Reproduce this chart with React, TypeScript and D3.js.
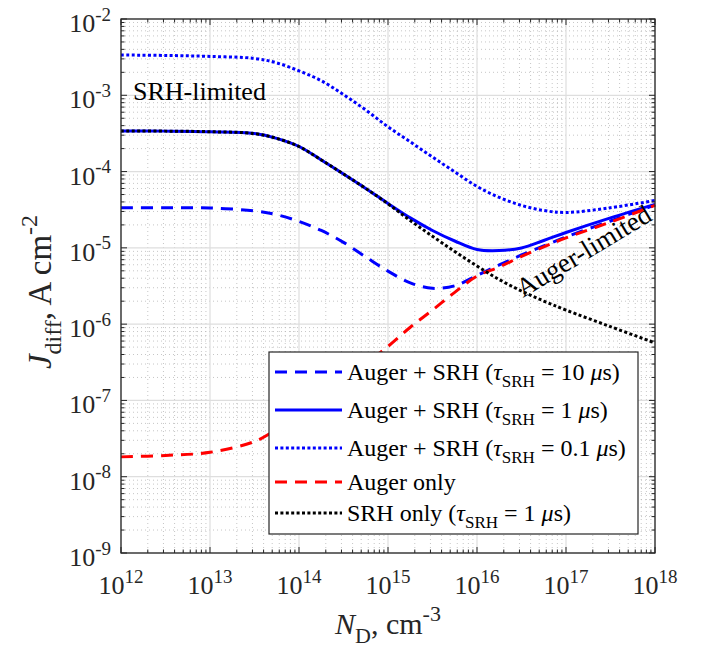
import React, { useMemo } from 'react';
import * as d3 from 'd3';

const WIDTH = 708;
const HEIGHT = 647;
const MARGIN = { top: 19, right: 53, bottom: 94, left: 121 };
const FONT = '"Liberation Serif", "Times New Roman", serif';
const AXIS_COLOR = '#262626';

// donor concentration N_D (cm^-3)
const ndValues = [
  1e12, 3.16e12, 1e13, 3.16e13, 5.62e13, 1e14, 1.78e14, 3.16e14, 5.62e14, 1e15, 1.78e15,
  3.16e15, 5.62e15, 1e16, 1.78e16, 3.16e16, 5.62e16, 1e17, 3.16e17, 1e18,
];

// J_diff (A cm^-2) for each curve
const jAugerSrh10 = [
  3.36e-5, 3.36e-5, 3.33e-5, 3.05e-5, 2.72e-5, 2.22e-5, 1.69e-5, 1.18e-5, 7.6e-6, 4.95e-6, 3.48e-6,
  2.95e-6, 3.18e-6, 4.35e-6, 5.97e-6, 8.07e-6, 1.06e-5, 1.39e-5, 2.25e-5, 3.65e-5,
];
const jAugerSrh1 = [
  3.4e-4, 3.39e-4, 3.33e-4, 3.15e-4, 2.72e-4, 2.13e-4, 1.42e-4, 9.3e-5, 6.01e-5, 3.82e-5, 2.47e-5,
  1.69e-5, 1.23e-5, 9.5e-6, 9.2e-6, 9.98e-6, 1.25e-5, 1.59e-5, 2.47e-5, 3.71e-5,
];
const jAugerSrh01 = [
  3.37e-3, 3.33e-3, 3.23e-3, 3.04e-3, 2.66e-3, 2.09e-3, 1.55e-3, 1.02e-3, 6.42e-4, 3.86e-4, 2.45e-4,
  1.55e-4, 9.9e-5, 6.38e-5, 4.58e-5, 3.6e-5, 3.09e-5, 2.91e-5, 3.36e-5, 4.18e-5,
];
const jAugerOnly = [
  1.82e-8, 1.9e-8, 2.09e-8, 2.89e-8, 4.17e-8, 6.3e-8, 1.02e-7, 1.74e-7, 3.02e-7, 5.1e-7, 9.1e-7,
  1.53e-6, 2.61e-6, 4.27e-6, 5.62e-6, 7.71e-6, 1.03e-5, 1.35e-5, 2.18e-5, 3.6e-5,
];
const jSrhOnly = [
  3.4e-4, 3.39e-4, 3.33e-4, 3.15e-4, 2.72e-4, 2.13e-4, 1.42e-4, 9.3e-5, 6.01e-5, 3.78e-5, 2.28e-5,
  1.42e-5, 8.95e-6, 5.79e-6, 3.84e-6, 2.72e-6, 2.01e-6, 1.53e-6, 9.27e-7, 5.68e-7,
];

const xTickExps = [12, 13, 14, 15, 16, 17, 18];
const yTickExps = [-9, -8, -7, -6, -5, -4, -3, -2];

const tauLabels = ['10', '1', '0.1'];

// plot order = draw order
const SERIES = [
  { key: 'a10', values: jAugerSrh10, color: '#0000ff', dash: '12 8' },
  { key: 'a1', values: jAugerSrh1, color: '#0000ff', dash: null },
  { key: 'a01', values: jAugerSrh01, color: '#0000ff', dash: '3 2.4' },
  { key: 'auger', values: jAugerOnly, color: '#ff0000', dash: '12 8' },
  { key: 'srh', values: jSrhOnly, color: '#000000', dash: '3 2.4' },
];

const isDecade = (v: number) => Math.abs(Math.log10(v) - Math.round(Math.log10(v))) < 1e-6;

const Chart = () => {
  const boundsWidth = WIDTH - MARGIN.left - MARGIN.right;
  const boundsHeight = HEIGHT - MARGIN.top - MARGIN.bottom;

  const xScale = useMemo(
    () => d3.scaleLog().domain([1e12, 1e18]).range([MARGIN.left, MARGIN.left + boundsWidth]),
    [boundsWidth]
  );
  const yScale = useMemo(
    () => d3.scaleLog().domain([1e-9, 1e-2]).range([MARGIN.top + boundsHeight, MARGIN.top]),
    [boundsHeight]
  );

  const x0 = MARGIN.left;
  const x1 = MARGIN.left + boundsWidth;
  const y0 = MARGIN.top;
  const y1 = MARGIN.top + boundsHeight;

  const xTicks = xScale.ticks();
  const yTicks = yScale.ticks();

  const lineGen = d3
    .line<number>()
    .x((_, i) => xScale(ndValues[i]))
    .y((d) => yScale(d))
    .curve(d3.curveCatmullRom.alpha(0.5));

  // legend
  const legendBox = { x: 269, y: 352, w: 369, h: 182 };
  const legendRows = [372, 410, 448, 482, 513];

  const tauText = (tau: string) => (
    <>
      <tspan>Auger + SRH (</tspan>
      <tspan fontStyle="italic">τ</tspan>
      <tspan fontSize={17} dy={7}>SRH</tspan>
      <tspan dy={-7}> = {tau} </tspan>
      <tspan fontStyle="italic">μ</tspan>
      <tspan>s)</tspan>
    </>
  );

  const legendLabels = [
    tauText(tauLabels[0]),
    tauText(tauLabels[1]),
    tauText(tauLabels[2]),
    <tspan>Auger only</tspan>,
    <>
      <tspan>SRH only (</tspan>
      <tspan fontStyle="italic">τ</tspan>
      <tspan fontSize={17} dy={7}>SRH</tspan>
      <tspan dy={-7}> = 1 </tspan>
      <tspan fontStyle="italic">μ</tspan>
      <tspan>s)</tspan>
    </>,
  ];

  return (
    <svg
      width={WIDTH}
      height={HEIGHT}
      style={{ position: 'absolute', left: 0, top: 0, background: '#fff' }}
      fontFamily={FONT}
    >
      <rect x={0} y={0} width={WIDTH} height={HEIGHT} fill="#fff" />

      {/* minor grid */}
      {xTicks.filter((t) => !isDecade(t)).map((t, i) => (
        <line key={`xm${i}`} x1={xScale(t)} x2={xScale(t)} y1={y0} y2={y1}
          stroke="#b8b8b8" strokeWidth={0.8} strokeDasharray="1 3" />
      ))}
      {yTicks.filter((t) => !isDecade(t)).map((t, i) => (
        <line key={`ym${i}`} x1={x0} x2={x1} y1={yScale(t)} y2={yScale(t)}
          stroke="#b8b8b8" strokeWidth={0.8} strokeDasharray="1 3" />
      ))}
      {/* major grid */}
      {xTicks.filter(isDecade).map((t, i) => (
        <line key={`xg${i}`} x1={xScale(t)} x2={xScale(t)} y1={y0} y2={y1}
          stroke="#dedede" strokeWidth={1.2} />
      ))}
      {yTicks.filter(isDecade).map((t, i) => (
        <line key={`yg${i}`} x1={x0} x2={x1} y1={yScale(t)} y2={yScale(t)}
          stroke="#dedede" strokeWidth={1.2} />
      ))}

      {/* curves */}
      {SERIES.map((s) => (
        <path
          key={s.key}
          d={lineGen(s.values) || ''}
          fill="none"
          stroke={s.color}
          strokeWidth={3}
          strokeDasharray={s.dash || undefined}
        />
      ))}

      {/* ticks on all four sides */}
      {xTicks.map((t, i) => {
        const len = isDecade(t) ? 6 : 3.5;
        const x = xScale(t);
        return (
          <g key={`xt${i}`} stroke={AXIS_COLOR} strokeWidth={1}>
            <line x1={x} x2={x} y1={y1} y2={y1 - len} />
            <line x1={x} x2={x} y1={y0} y2={y0 + len} />
          </g>
        );
      })}
      {yTicks.map((t, i) => {
        const len = isDecade(t) ? 6 : 3.5;
        const y = yScale(t);
        return (
          <g key={`yt${i}`} stroke={AXIS_COLOR} strokeWidth={1}>
            <line x1={x0} x2={x0 + len} y1={y} y2={y} />
            <line x1={x1} x2={x1 - len} y1={y} y2={y} />
          </g>
        );
      })}
      <rect x={x0} y={y0} width={boundsWidth} height={boundsHeight}
        fill="none" stroke={AXIS_COLOR} strokeWidth={1.3} />

      {/* tick labels */}
      {xTickExps.map((e) => (
        <text key={`xl${e}`} x={xScale(10 ** e)} y={594} textAnchor="middle" fontSize={26} fill={AXIS_COLOR}>
          <tspan>10</tspan>
          <tspan fontSize={19} dy={-11}>{e}</tspan>
        </text>
      ))}
      {yTickExps.map((e) => (
        <text key={`yl${e}`} x={111} y={yScale(10 ** e) + 13} textAnchor="end" fontSize={26} fill={AXIS_COLOR}>
          <tspan>10</tspan>
          <tspan fontSize={19} dy={-11.5}>{e}</tspan>
        </text>
      ))}

      {/* axis labels */}
      <text x={(x0 + x1) / 2} y={634} textAnchor="middle" fontSize={30} fill={AXIS_COLOR}>
        <tspan fontStyle="italic">N</tspan>
        <tspan fontSize={22} dy={9}>D</tspan>
        <tspan dy={-9}>, cm</tspan>
        <tspan fontSize={22} dy={-13}>-3</tspan>
      </text>
      <text
        transform={`translate(51,292) rotate(-90)`}
        textAnchor="middle"
        fontSize={33}
        fill={AXIS_COLOR}
      >
        <tspan fontStyle="italic">J</tspan>
        <tspan fontSize={24} dy={10}>diff</tspan>
        <tspan dy={-10}>, A cm</tspan>
        <tspan fontSize={24} dy={-14}>-2</tspan>
      </text>

      {/* annotations */}
      <text x={133} y={100} fontSize={26} fill="#000">SRH-limited</text>
      <text transform="translate(523,298) rotate(-31)" fontSize={27} fill="#000">Auger-limited</text>

      {/* legend */}
      <rect x={legendBox.x} y={legendBox.y} width={legendBox.w} height={legendBox.h}
        fill="#fff" stroke={AXIS_COLOR} strokeWidth={1.2} />
      {SERIES.map((s, i) => (
        <g key={`lg${s.key}`}>
          <line x1={275} x2={342} y1={legendRows[i]} y2={legendRows[i]}
            stroke={s.color} strokeWidth={3} strokeDasharray={s.dash || undefined} />
          <text x={347} y={legendRows[i] + 8} fontSize={24} fill="#000">
            {legendLabels[i]}
          </text>
        </g>
      ))}
    </svg>
  );
};

const App = () => <Chart />;

export default App;
